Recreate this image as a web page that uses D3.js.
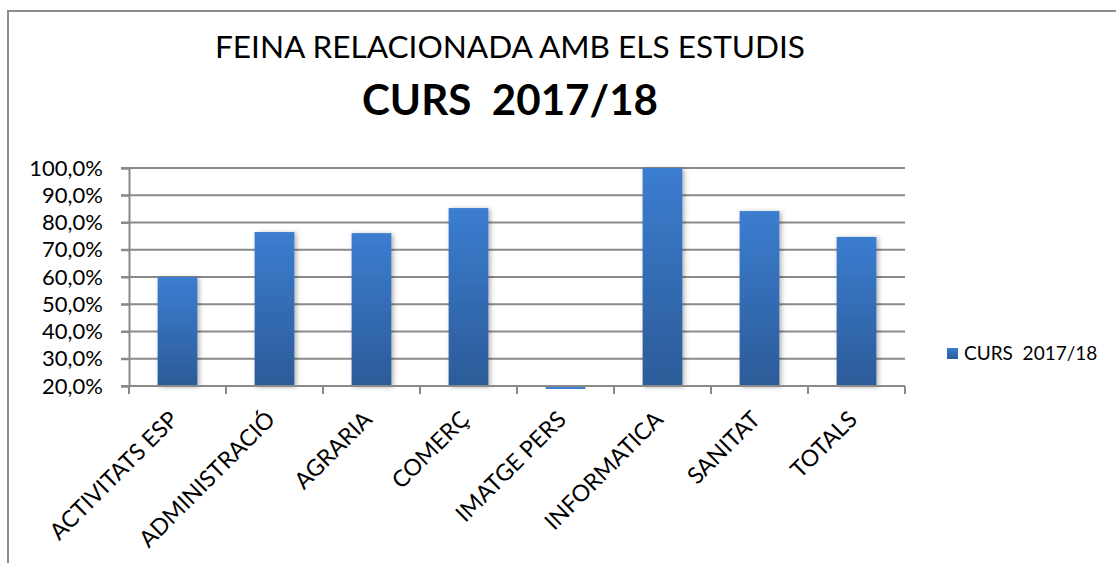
<!DOCTYPE html>
<html>
<head>
<meta charset="utf-8">
<script src="https://cdn.jsdelivr.net/npm/d3@7"></script>
<style>
    body { margin: 0; background: #fff; }
    text { font-family: Lato, "Open Sans", sans-serif; fill: #000; }
</style>
</head>
<body>
<div id="draw"></div>
<script>
//dades
var categories = ["ACTIVITATS ESP", "ADMINISTRACIÓ", "AGRARIA", "COMERÇ", "IMATGE PERS", "INFORMATICA", "SANITAT", "TOTALS"];
var values = [0.600, 0.765, 0.761, 0.853, 0.0, 1.0, 0.842, 0.747];
var yTicks = [0.2, 0.3, 0.4, 0.5, 0.6, 0.7, 0.8, 0.9, 1.0];
var title1 = "FEINA RELACIONADA AMB ELS ESTUDIS";
var title2 = "CURS  2017/18";
var seriesName = "CURS  2017/18";

var w = 1116;
var h = 563;
var pLeft = 129, pRight = 905, pTop = 168, pBottom = 386;   //area del grafic

var svg = d3.select("#draw")
    .append("svg")
    .attr("width", w)
    .attr("height", h);

//gradient i ombra de les barres
var defs = svg.append("defs");
var grad = defs.append("linearGradient")
    .attr("id", "barGrad")
    .attr("x1", 0).attr("y1", 0).attr("x2", 0).attr("y2", 1);
grad.append("stop").attr("offset", "0%").attr("stop-color", "#3b7dd0");
grad.append("stop").attr("offset", "100%").attr("stop-color", "#2c5b98");
var shadow = defs.append("filter")
    .attr("id", "shadow")
    .attr("x", "-20%").attr("y", "-10%").attr("width", "150%").attr("height", "130%");
shadow.append("feDropShadow")
    .attr("dx", 2).attr("dy", 1).attr("stdDeviation", 2.5)
    .attr("flood-color", "#000").attr("flood-opacity", 0.3);

//marc del grafic
svg.append("path")
    .attr("d", "M8," + h + " L8,11 L" + w + ",11")
    .attr("fill", "none")
    .attr("stroke", "#8c8c8c")
    .attr("stroke-width", 2);

//escales
var x = d3.scaleBand()
    .domain(categories)
    .range([pLeft, pRight])
    .paddingInner(0.59)
    .paddingOuter(0.295);
var y = d3.scaleLinear()
    .domain([0.2, 1.0])
    .range([pBottom, pTop]);

var cat = d3.formatLocale({decimal: ",", thousands: ".", grouping: [3], currency: ["", "€"]});
var pct = cat.format(".1%");

//linies de la graella
svg.selectAll("line.grid")
    .data(yTicks)
    .enter()
    .append("line")
    .attr("class", "grid")
    .attr("x1", pLeft - 8)
    .attr("x2", pRight)
    .attr("y1", function(d) { return y(d); })
    .attr("y2", function(d) { return y(d); })
    .attr("stroke", "#8a8a8a")
    .attr("stroke-width", 2);

//eix Y
var yAxis = svg.append("g")
    .attr("transform", "translate(" + pLeft + ",0)")
    .call(d3.axisLeft(y).tickValues(yTicks).tickFormat(pct).tickSize(8).tickPadding(18));
yAxis.select(".domain").attr("stroke", "#8a8a8a").attr("stroke-width", 2);
yAxis.selectAll(".tick line").attr("stroke", "#8a8a8a").attr("stroke-width", 2);
yAxis.selectAll(".tick text")
    .attr("font-family", "Lato, 'Open Sans', sans-serif")
    .attr("font-size", "22px")
    .attr("fill", "#000");

//barres
svg.selectAll("rect.bar")
    .data(values)
    .enter()
    .append("rect")
    .attr("class", "bar")
    .attr("x", function(d, i) { return x(categories[i]); })
    .attr("y", function(d) {
        if (d < y.domain()[0]) {
            return pBottom + 1;
        }
        return y(d);
    })
    .attr("width", x.bandwidth())
    .attr("height", function(d) {
        if (d < y.domain()[0]) {
            return 2;   //valor sota el minim de l'eix
        }
        return pBottom - y(d);
    })
    .attr("fill", function(d) { return d < y.domain()[0] ? "#3b7dd0" : "url(#barGrad)"; })
    .attr("filter", function(d) { return d < y.domain()[0] ? null : "url(#shadow)"; });

//eix X (marques entre categories)
var step = x.step();
var bounds = d3.range(categories.length + 1).map(function(i) { return pLeft + i * step; });
svg.append("line")
    .attr("x1", pLeft).attr("x2", pRight)
    .attr("y1", pBottom).attr("y2", pBottom)
    .attr("stroke", "#8a8a8a")
    .attr("stroke-width", 2);
svg.selectAll("line.xtick")
    .data(bounds)
    .enter()
    .append("line")
    .attr("class", "xtick")
    .attr("x1", function(d) { return d; })
    .attr("x2", function(d) { return d; })
    .attr("y1", pBottom)
    .attr("y2", pBottom + 8)
    .attr("stroke", "#8a8a8a")
    .attr("stroke-width", 2);

//etiquetes de categoria giradas
svg.selectAll("text.xlabel")
    .data(categories)
    .enter()
    .append("text")
    .attr("class", "xlabel")
    .attr("transform", function(d) {
        return "translate(" + (x(d) + x.bandwidth() / 2 + 2) + "," + (pBottom + 35) + ") rotate(-45)";
    })
    .attr("text-anchor", "end")
    .attr("font-size", "23px")
    .text(function(d) { return d; });

//titols
svg.append("text")
    .attr("x", 510)
    .attr("y", 58)
    .attr("text-anchor", "middle")
    .attr("font-size", "30px")
    .attr("textLength", 590)
    .attr("lengthAdjust", "spacingAndGlyphs")
    .text(title1);
svg.append("text")
    .attr("x", 510)
    .attr("y", 115)
    .attr("text-anchor", "middle")
    .attr("font-size", "42px")
    .attr("font-weight", "bold")
    .attr("textLength", 296)
    .attr("lengthAdjust", "spacingAndGlyphs")
    .style("white-space", "pre")
    .text(title2);

//llegenda
var legend = svg.append("g").attr("transform", "translate(947,348)");
legend.append("rect")
    .attr("width", 11)
    .attr("height", 11)
    .attr("fill", "url(#barGrad)");
legend.append("text")
    .attr("x", 17)
    .attr("y", 12)
    .attr("font-size", "19px")
    .style("white-space", "pre")
    .text(seriesName);
</script>
</body>
</html>
